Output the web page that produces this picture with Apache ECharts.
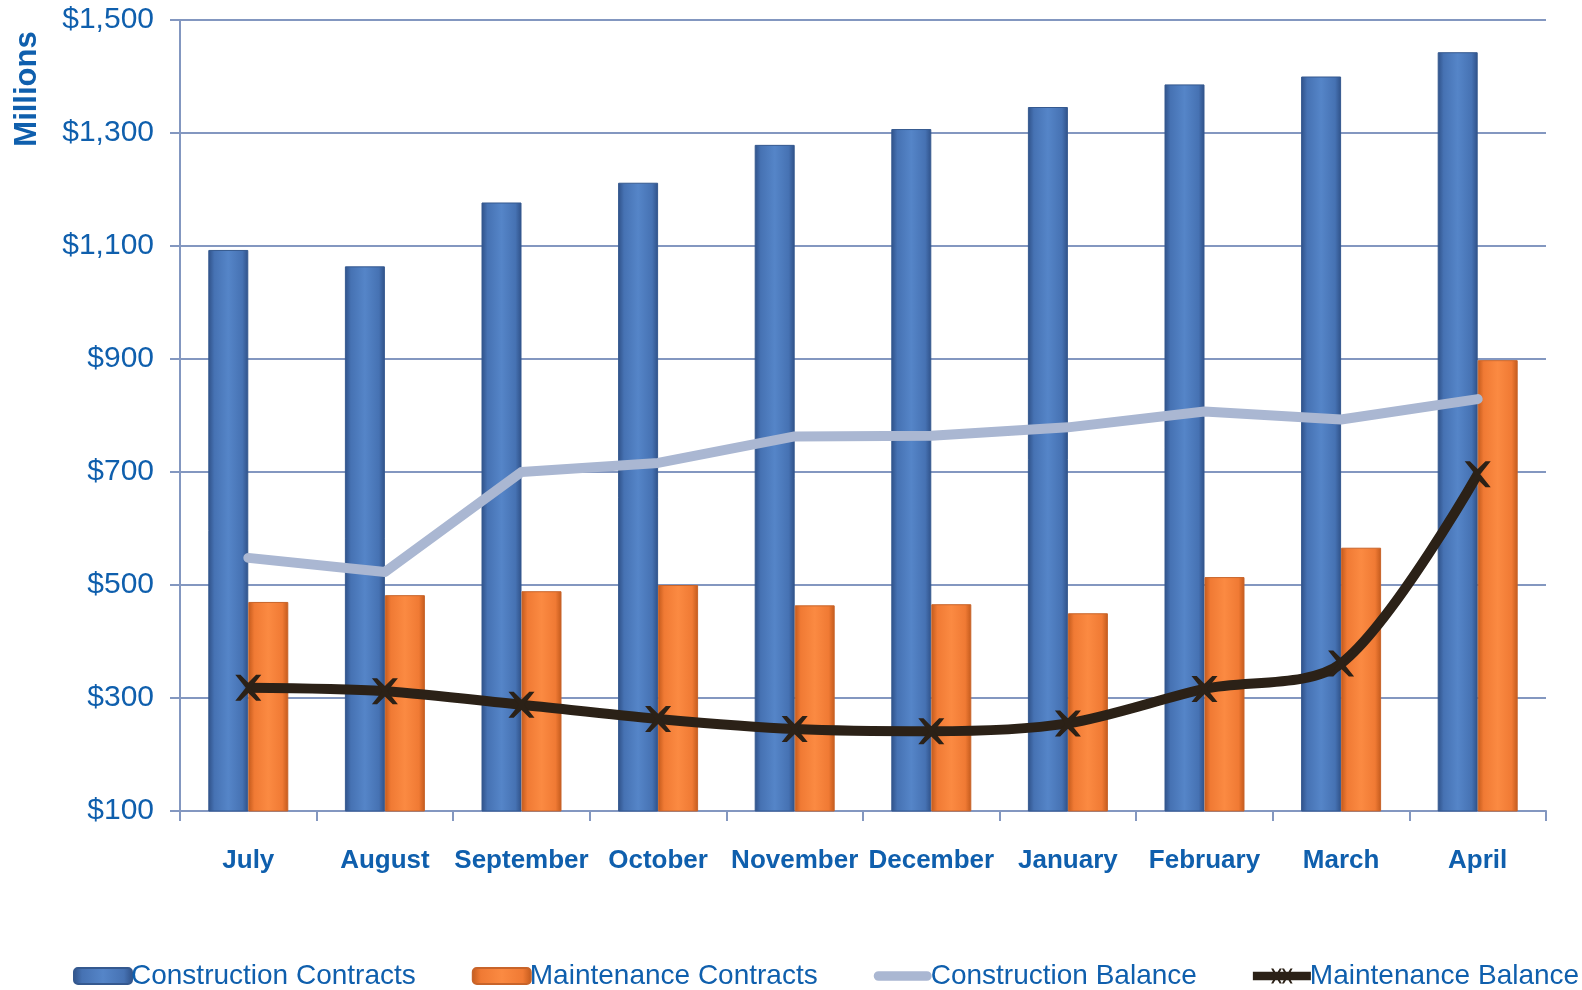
<!DOCTYPE html>
<html>
<head>
<meta charset="utf-8">
<script src="https://cdn.jsdelivr.net/npm/echarts@6/dist/echarts.min.js"></script>
<style>
  html, body { margin: 0; padding: 0; background: #fff; }
  #chart { width: 1582px; height: 990px; }
</style>
</head>
<body>
<div id="chart"></div>
<script>
// data (millions of $)
var months = ['July', 'August', 'September', 'October', 'November', 'December', 'January', 'February', 'March', 'April'];
var constructionContracts = [1093, 1064, 1177, 1212, 1279, 1307, 1346, 1386, 1400, 1443];
var maintenanceContracts = [470, 482, 489, 500, 464, 466, 450, 514, 566, 898];
var constructionBalance = [548, 523, 700, 716, 763, 764, 779, 807, 793, 829];
var maintenanceBalance = [318, 312, 288, 263, 245, 241, 255, 316, 361, 696];

var textColor = '#0f5fad';
var axisColor = '#8397c0';
var font = 'Liberation Sans, Arial';

function barGrad(dark, mid, light) {
    return new echarts.graphic.LinearGradient(0, 0, 1, 0, [
        { offset: 0, color: dark },
        { offset: 0.15, color: mid },
        { offset: 0.5, color: light },
        { offset: 0.85, color: mid },
        { offset: 1, color: dark }
    ]);
}

var xMark = 'path://M0,0 L2,0 L5,3 L8,0 L10,0 L6,5 L10,10 L8,10 L5,7 L2,10 L0,10 L4,5 Z';
// legend icons
var lineIcon = 'path://M5,2 L55,2 A5,5 0 0 1 55,12 L5,12 A5,5 0 0 1 5,2 Z';
var xLineIcon = 'path://M3,3 L57,3 L57,11 L3,11 Z M20,0 L22,0 L25,5 L28,0 L30,0 L26,7 L30,14 L28,14 L25,9 L22,14 L20,14 L24,7 Z M30,0 L32,0 L35,5 L38,0 L40,0 L36,7 L40,14 L38,14 L35,9 L32,14 L30,14 L34,7 Z';

var chart = echarts.init(document.getElementById('chart'));
chart.setOption({
    animation: false,
    grid: { left: 180, right: 36, top: 20, bottom: 179 },
    graphic: [{
        type: 'text',
        x: 27, y: 89,
        rotation: Math.PI / 2,
        style: {
            text: 'Millions', fill: textColor, font: 'bold 31px ' + font,
            align: 'center', verticalAlign: 'middle'
        }
    }],
    legend: {
        bottom: 0,
        left: 73,
        width: 1509,
        padding: 0,
        itemGap: 56,
        itemWidth: 58,
        itemHeight: 16,
        textStyle: { color: textColor, fontSize: 28, fontFamily: font, padding: [0, 0, 0, -6] },
        data: [
            { name: 'Construction Contracts' },
            { name: 'Maintenance Contracts' },
            { name: 'Construction Balance', icon: lineIcon },
            { name: 'Maintenance Balance', icon: xLineIcon }
        ]
    },
    xAxis: {
        type: 'category',
        data: months,
        axisLine: { lineStyle: { color: axisColor, width: 2 } },
        axisTick: { show: true, length: 10, lineStyle: { color: axisColor, width: 2 } },
        axisLabel: { interval: 0, color: textColor, fontSize: 26, fontWeight: 'bold', fontFamily: font, margin: 37 }
    },
    yAxis: {
        type: 'value',
        min: 100,
        max: 1500,
        interval: 200,
        axisLine: { show: true, lineStyle: { color: axisColor, width: 2 } },
        axisTick: { show: true, length: 10, lineStyle: { color: axisColor, width: 2 } },
        splitLine: { lineStyle: { color: axisColor, width: 2 } },
        axisLabel: {
            color: textColor, fontSize: 30, fontFamily: font, margin: 26,
            formatter: function (v) { return '$' + v.toLocaleString('en-US'); }
        }
    },
    series: [
        {
            name: 'Construction Contracts',
            type: 'bar',
            data: constructionContracts,
            barWidth: 40,
            barGap: '0%',
            itemStyle: { color: barGrad('#2f5188', '#4672b3', '#5585c8'), borderColor: '#35598f', borderWidth: 1 }
        },
        {
            name: 'Maintenance Contracts',
            type: 'bar',
            data: maintenanceContracts,
            barWidth: 40,
            itemStyle: { color: barGrad('#c35a1c', '#f07a34', '#fb8a42'), borderColor: '#c8642a', borderWidth: 1 }
        },
        {
            name: 'Construction Balance',
            type: 'line',
            data: constructionBalance,
            symbol: 'none',
            lineStyle: { color: '#aab7d2', width: 10, cap: 'round', join: 'round' },
            itemStyle: { color: '#aab7d2' },
            z: 3
        },
        {
            name: 'Maintenance Balance',
            type: 'line',
            data: maintenanceBalance,
            smooth: 0.3,
            symbol: xMark,
            symbolSize: 26,
            lineStyle: { color: '#2b2117', width: 10 },
            itemStyle: { color: '#2b2117' },
            z: 4
        }
    ]
});
</script>
</body>
</html>
